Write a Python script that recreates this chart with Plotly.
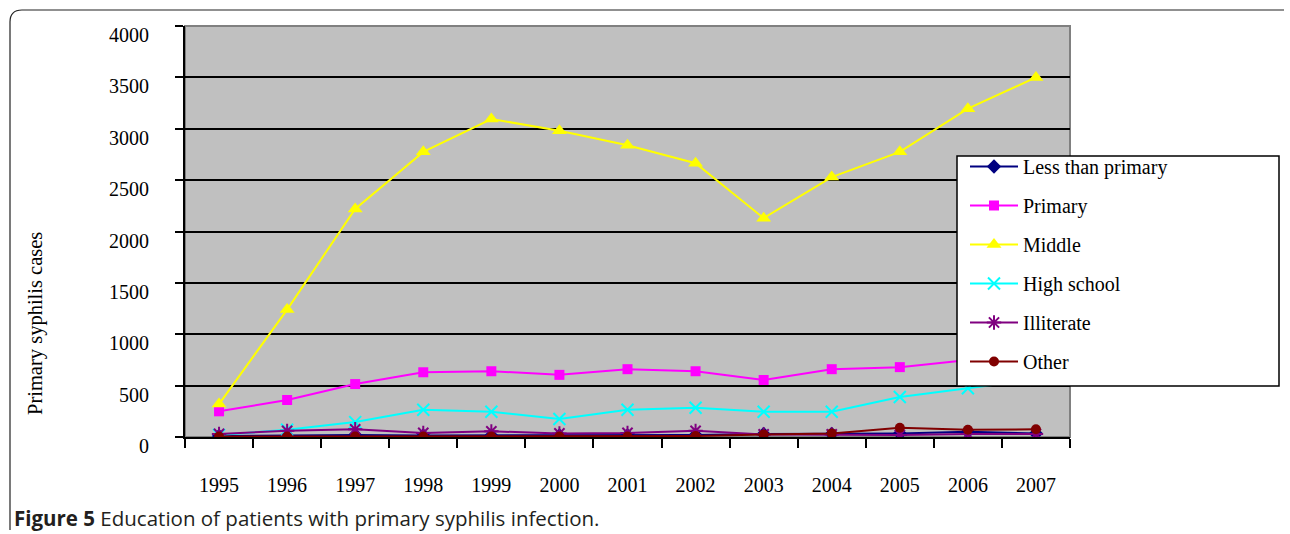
import plotly.graph_objects as go

# Cases of primary syphilis by education level, 1995-2007
years = ["1995", "1996", "1997", "1998", "1999", "2000", "2001",
         "2002", "2003", "2004", "2005", "2006", "2007"]
less_than_primary = [10, 15, 20, 15, 15, 15, 15, 20, 30, 30, 35, 50, 35]
primary = [250, 360, 515, 630, 640, 605, 660, 640, 555, 660, 680, 750, 820]
middle = [320, 1240, 2220, 2775, 3095, 2980, 2840, 2665, 2130, 2530, 2775, 3195, 3500]
high_school = [20, 70, 145, 265, 245, 175, 265, 285, 245, 245, 390, 475, 560]
illiterate = [30, 60, 75, 40, 55, 35, 40, 60, 25, 25, 20, 30, 30]
other = [5, 5, 5, 5, 5, 5, 5, 10, 25, 35, 90, 70, 75]

y_ticks = [0, 500, 1000, 1500, 2000, 2500, 3000, 3500, 4000]

series = [
    ("Less than primary", less_than_primary, "#000080", "diamond", 11, 0),
    ("Primary", primary, "#FF00FF", "square", 10, 0),
    ("Middle", middle, "#FFFF00", "triangle-up", 13, 0),
    ("High school", high_school, "#00FFFF", "x-thin-open", 12, 2),
    ("Illiterate", illiterate, "#800080", "asterisk-open", 12, 2),
    ("Other", other, "#800000", "circle", 10, 0),
]

W, H = 1290, 534
L, R, T, B = 185, 1070, 26, 437   # plot area in pixels
LBL_DROP = 9                      # value labels sit a little below their gridlines
PB = B + LBL_DROP                 # bottom of the paper area


def px(x):
    return (x - L) / (R - L)


def py(y):
    return (PB - y) / (PB - T)


serif = "Liberation Serif, Times New Roman, serif"

fig = go.Figure()
for i, (name, vals, color, sym, size, mlw) in enumerate(series):
    fig.add_trace(go.Scatter(
        x=years, y=vals, name=name, mode="lines+markers",
        legendgroup=f"g{i}",
        line=dict(color=color, width=2),
        marker=dict(symbol=sym, size=size, color=color,
                    line=dict(color=color, width=mlw)),
    ))

# carrier trace for the value-label axis
fig.add_trace(go.Scatter(x=[years[0]], y=[0], yaxis="y2", mode="markers",
                         marker=dict(opacity=0), showlegend=False,
                         hoverinfo="skip"))

shapes = [
    # silver plot background with grey outline
    dict(type="rect", xref="x domain", yref="y domain", x0=0, x1=1, y0=0, y1=1,
         fillcolor="#C0C0C0", line=dict(color="#808080", width=2), layer="below"),
    # legend box
    dict(type="rect", xref="paper", yref="paper",
         x0=px(957), x1=px(1279), y0=py(386), y1=py(156),
         fillcolor="white", line=dict(color="black", width=1.5), layer="above"),
    # outer frame with rounded top-left corner
    dict(type="path", xref="paper", yref="paper",
         path=(f"M {px(10)},{py(530)} L {px(10)},{py(22)} "
               f"Q {px(10)},{py(10)} {px(22)},{py(10)} L {px(1284)},{py(10)}"),
         line=dict(color="#222222", width=1.2)),
]

annotations = [
    dict(text="Primary syphilis cases", xref="paper", yref="paper",
         x=px(36), y=py(324), textangle=-90, showarrow=False,
         font=dict(family=serif, size=20.5, color="black"),
         xanchor="center", yanchor="middle"),
    dict(text="<b>Figure 5</b> Education of patients with primary syphilis infection.",
         xref="paper", yref="paper", x=px(12), y=py(518), showarrow=False,
         xanchor="left", yanchor="middle",
         font=dict(family="Open Sans, sans-serif", size=20.5, color="#231f20")),
]

fig.update_layout(
    width=W, height=H,
    margin=dict(l=L, r=W - R, t=T, b=H - PB, pad=0),
    paper_bgcolor="white", plot_bgcolor="rgba(0,0,0,0)",
    font=dict(family=serif, size=20, color="black"),
    showlegend=True,
    legend=dict(x=px(965), y=py(147), xanchor="left", yanchor="top",
                bgcolor="rgba(0,0,0,0)", borderwidth=0,
                tracegroupgap=10, itemwidth=48,
                font=dict(family=serif, size=20, color="black")),
    shapes=shapes, annotations=annotations,
    xaxis=dict(type="category", categoryorder="array", categoryarray=years,
               range=[-0.5, 12.5], tickson="boundaries",
               ticks="outside", ticklen=9, tickwidth=2, tickcolor="black",
               showline=True, linecolor="black", linewidth=2,
               showgrid=False, zeroline=False, ticklabelstandoff=29,
               tickfont=dict(family=serif, size=20)),
    yaxis=dict(range=[0, 4000], tickvals=y_ticks, domain=[py(B), 1],
               showticklabels=False,
               ticks="outside", ticklen=8, tickwidth=2, tickcolor="black",
               showline=True, linecolor="black", linewidth=2,
               showgrid=True, gridcolor="black", gridwidth=1.5,
               zeroline=False),
    yaxis2=dict(range=[0, 4000], tickvals=y_ticks,
                ticktext=[str(v) for v in y_ticks],
                domain=[0, py(T + LBL_DROP)], anchor="free", position=0,
                side="left", showline=False, showgrid=False, zeroline=False,
                ticks="", ticklabelstandoff=36,
                tickfont=dict(family=serif, size=20)),
)

fig.write_html("out.html")
